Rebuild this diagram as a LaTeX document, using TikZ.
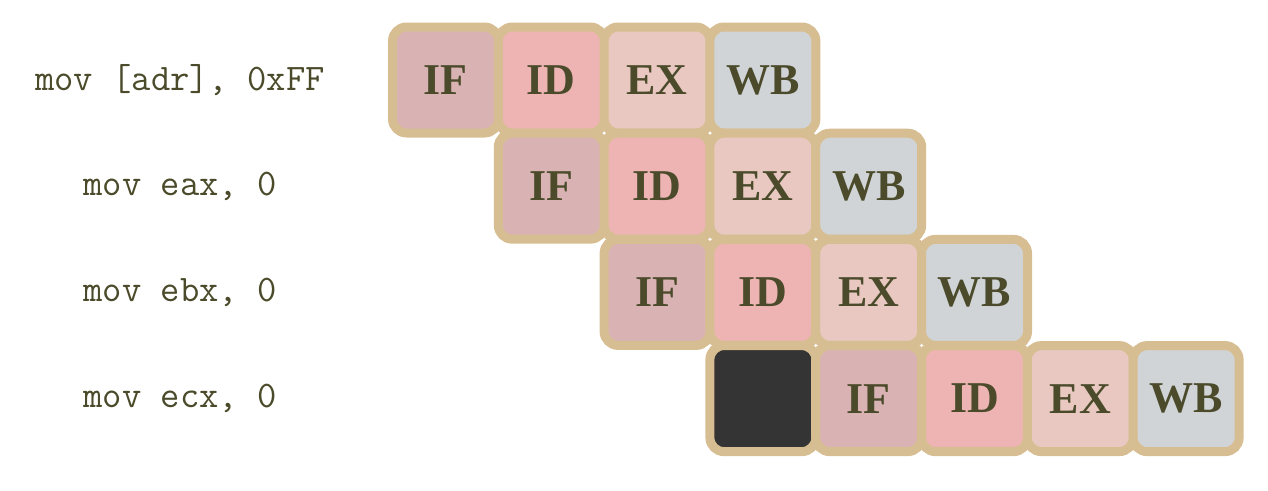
\documentclass[tikz,border=0pt]{standalone}
\usepackage{fontspec}
\setmainfont{Liberation Serif}
\setmonofont{Latin Modern Mono}
\definecolor{bord}{RGB}{215,190,146}
\definecolor{cIF}{RGB}{217,179,179}
\definecolor{cID}{RGB}{238,180,180}
\definecolor{cEX}{RGB}{232,200,192}
\definecolor{cWB}{RGB}{208,212,214}
\definecolor{cDK}{RGB}{52,52,52}
\definecolor{txt}{RGB}{75,75,43}
\tikzset{
  stage/.style={draw=bord, line width=9pt, rounded corners=14pt, minimum size=106pt, inner sep=0pt,
    text=txt, font=\fontsize{44}{44}\selectfont\bfseries},
  sIF/.style={stage, fill=cIF},
  sID/.style={stage, fill=cID},
  sEX/.style={stage, fill=cEX},
  sWB/.style={stage, fill=cWB},
  sDK/.style={stage, fill=cDK},
  instr/.style={text=txt, font=\fontsize{37.5}{37.5}\selectfont\ttfamily, anchor=center}
}
\begin{document}
\begin{tikzpicture}[x=1pt,y=-1pt]
\useasboundingbox (0,0) rectangle (1268,490);
\def\px#1{445.5+(#1-1)*105.8}
\def\py#1{80+(#1-1)*106.2}
% row 1
\node[instr] (t1) at (180,{\py{1}}) {mov [adr], 0xFF};
\node[sIF] (r1a) at ({\px{1}},{\py{1}}) {IF};
\node[sID] (r1b) at ({\px{2}},{\py{1}}) {ID};
\node[sEX] (r1c) at ({\px{3}},{\py{1}}) {EX};
\node[sWB] (r1d) at ({\px{4}},{\py{1}}) {WB};
% row 2
\node[instr] (t2) at (180,{\py{2}}) {mov eax, 0};
\node[sIF] (r2a) at ({\px{2}},{\py{2}}) {IF};
\node[sID] (r2b) at ({\px{3}},{\py{2}}) {ID};
\node[sEX] (r2c) at ({\px{4}},{\py{2}}) {EX};
\node[sWB] (r2d) at ({\px{5}},{\py{2}}) {WB};
% row 3
\node[instr] (t3) at (180,{\py{3}}) {mov ebx, 0};
\node[sIF] (r3a) at ({\px{3}},{\py{3}}) {IF};
\node[sID] (r3b) at ({\px{4}},{\py{3}}) {ID};
\node[sEX] (r3c) at ({\px{5}},{\py{3}}) {EX};
\node[sWB] (r3d) at ({\px{6}},{\py{3}}) {WB};
% row 4
\node[instr] (t4) at (180,{\py{4}}) {mov ecx, 0};
\node[sDK] (r4s) at ({\px{4}},{\py{4}}) {};
\node[sIF] (r4a) at ({\px{5}},{\py{4}}) {IF};
\node[sID] (r4b) at ({\px{6}},{\py{4}}) {ID};
\node[sEX] (r4c) at ({\px{7}},{\py{4}}) {EX};
\node[sWB] (r4d) at ({\px{8}},{\py{4}}) {WB};
\end{tikzpicture}
\end{document}
